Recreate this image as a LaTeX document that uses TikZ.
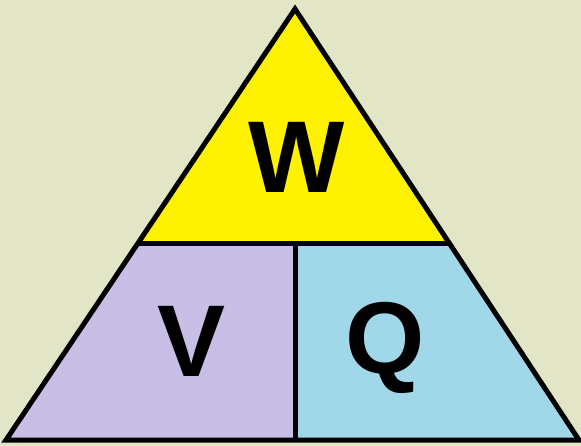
\documentclass[tikz,border=0pt]{standalone}
\usepackage{fontspec}
\newfontfamily\letterfont{Liberation Sans Bold}
\definecolor{bgc}{HTML}{E3E5C7}
\definecolor{topc}{HTML}{FFF200}
\definecolor{leftc}{HTML}{C8BEE6}
\definecolor{rightc}{HTML}{A0D8EA}
\tikzset{
  letter/.style={font=\letterfont\fontsize{102}{102}\selectfont, inner sep=0pt, anchor=center},
  edge/.style={line width=5pt, line join=miter, draw=black}
}
\begin{document}
\begin{tikzpicture}[x=1pt,y=-1pt]
\fill[bgc] (0,0) rectangle (581,446);
\useasboundingbox (0,0) rectangle (581,446);
\coordinate (A) at (295,9);
\coordinate (L) at (6,440);
\coordinate (R) at (579,440);
\coordinate (ML) at (137.3,244);
\coordinate (MR) at (450.1,244);
\coordinate (MM) at (295,244);
\coordinate (BM) at (295,440);
\fill[topc] (A) -- (ML) -- (MR) -- cycle;
\fill[leftc] (ML) -- (MM) -- (BM) -- (L) -- cycle;
\fill[rightc] (MM) -- (MR) -- (R) -- (BM) -- cycle;
\draw[edge] (ML) -- (MR);
\draw[edge] (MM) -- (BM);
\draw[edge] (A) -- (L) -- (R) -- cycle;
\node[letter] (w) at (296.5,157) {W};
\node[letter] (v) at (192,341) {V};
\node[letter] (q) at (385,348) {Q};
\end{tikzpicture}
\end{document}
